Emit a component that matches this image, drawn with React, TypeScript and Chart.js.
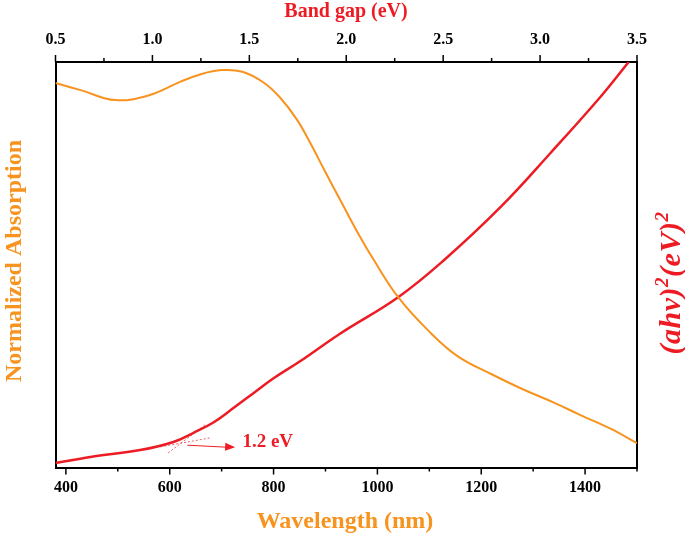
import React, { useEffect, useRef } from "react";
import { Chart, registerables } from "chart.js";

Chart.register(...registerables);

// Wavelength (nm) and normalized absorption (orange)
const absWavelength = [380, 430, 495, 560, 620, 660, 700, 740, 780, 812, 845, 870, 900, 930, 960, 992, 1040, 1100, 1155, 1220, 1280, 1340, 1390, 1450, 1500];
const absValues = [0.948, 0.930, 0.906, 0.918, 0.951, 0.970, 0.980, 0.976, 0.950, 0.913, 0.858, 0.802, 0.728, 0.656, 0.584, 0.514, 0.420, 0.335, 0.274, 0.230, 0.193, 0.160, 0.130, 0.095, 0.060];

// Tauc curve (red), plotted on the same wavelength axis
const taucWavelength = [380, 447, 543, 607, 645, 684, 722, 765, 800, 851, 928, 1040, 1127, 1237, 1333, 1429, 1484];
const taucValues = [0.011, 0.026, 0.043, 0.063, 0.085, 0.111, 0.146, 0.187, 0.220, 0.262, 0.330, 0.420, 0.510, 0.642, 0.775, 0.913, 1.0];

// Tangent (dashed) lines for the band-gap extrapolation
const tangentA_x = [582, 678];
const tangentA_y = [0.051, 0.073];
const tangentB_x = [597, 668];
const tangentB_y = [0.036, 0.105];

// Annotation
const arrowFrom = [634, 0.055];
const arrowTo = [726, 0.05];
const labelAt = [740, 0.063];
const annotationText = "1.2 eV";

// Axis ranges and tick values
const wlRange = [380, 1500];
const egRange = [0.5, 3.5];
const wlTicks = [400, 500, 600, 700, 800, 900, 1000, 1100, 1200, 1300, 1400, 1500];
const egTicks = [0.5, 0.75, 1.0, 1.25, 1.5, 1.75, 2.0, 2.25, 2.5, 2.75, 3.0, 3.25, 3.5];

const ORANGE = "#f7931e";
const RED = "#ed1c24";
const SERIF = "'Liberation Serif', 'Times New Roman', serif";

const zip = (xs: number[], ys: number[]) => xs.map((x, i) => ({ x, y: ys[i] }));

export default function App() {
  const ref = useRef<HTMLCanvasElement>(null);
  useEffect(() => {
    const canvas = ref.current!;
    const W = 685, H = 539;
    const plotL = 55.5, plotR = 637, plotT = 62, plotB = 467.5;

    const decor = {
      id: "decor",
      afterDraw(chart: any) {
        const ctx = chart.ctx;
        const ca = chart.chartArea;
        const xs = chart.scales.x;
        const xt = chart.scales.x2;
        const y2 = chart.scales.y2;
        ctx.save();
        // ticks
        ctx.strokeStyle = "#000";
        ctx.lineWidth = 1.5;
        wlTicks.forEach((v) => {
          const p = xs.getPixelForValue(v);
          const len = v % 200 === 0 ? 7 : 4;
          ctx.beginPath();
          ctx.moveTo(p, ca.bottom);
          ctx.lineTo(p, ca.bottom + len);
          ctx.stroke();
        });
        egTicks.forEach((v) => {
          const r = Math.round(v * 4);
          const p = xt.getPixelForValue(v);
          const len = r % 2 === 0 ? 7 : 4;
          ctx.beginPath();
          ctx.moveTo(p, ca.top);
          ctx.lineTo(p, ca.top - len);
          ctx.stroke();
        });
        // arrow
        const ax0 = xs.getPixelForValue(arrowFrom[0]);
        const ay0 = y2.getPixelForValue(arrowFrom[1]);
        const ax1 = xs.getPixelForValue(arrowTo[0]);
        const ay1 = y2.getPixelForValue(arrowTo[1]);
        ctx.strokeStyle = RED;
        ctx.fillStyle = RED;
        ctx.lineWidth = 1;
        ctx.beginPath();
        ctx.moveTo(ax0, ay0);
        ctx.lineTo(ax1 - 8, ay1);
        ctx.stroke();
        const ang = Math.atan2(ay1 - ay0, ax1 - ax0);
        ctx.beginPath();
        ctx.moveTo(ax1, ay1);
        ctx.lineTo(ax1 - 10 * Math.cos(ang) + 4 * Math.sin(ang), ay1 - 10 * Math.sin(ang) - 4 * Math.cos(ang));
        ctx.lineTo(ax1 - 10 * Math.cos(ang) - 4 * Math.sin(ang), ay1 - 10 * Math.sin(ang) + 4 * Math.cos(ang));
        ctx.closePath();
        ctx.fill();
        ctx.font = `bold 19px ${SERIF}`;
        ctx.textAlign = "left";
        ctx.textBaseline = "middle";
        ctx.fillText(annotationText, xs.getPixelForValue(labelAt[0]), y2.getPixelForValue(labelAt[1]));
        // titles
        ctx.textAlign = "center";
        ctx.fillStyle = RED;
        ctx.font = `bold 20px ${SERIF}`;
        ctx.fillText("Band gap (eV)", 346, 12);
        ctx.fillStyle = ORANGE;
        ctx.font = `bold 24px ${SERIF}`;
        ctx.fillText("Wavelength (nm)", 345, 522);
        ctx.save();
        ctx.translate(15, 261);
        ctx.rotate(-Math.PI / 2);
        ctx.fillText("Normalized Absorption", 0, 0);
        ctx.restore();
        // right title built from parts (with superscripts)
        ctx.save();
        ctx.translate(670, 283);
        ctx.rotate(-Math.PI / 2);
        ctx.fillStyle = RED;
        ctx.textAlign = "left";
        ctx.textBaseline = "alphabetic";
        const big = `italic bold 30px ${SERIF}`;
        const small = `italic bold 19px ${SERIF}`;
        const parts: [string, boolean][] = [["(ahv)", false], ["2", true], ["(eV)", false], ["2", true]];
        const spacing = 0.5;
        let total = 0;
        parts.forEach(([t, sup]) => {
          ctx.font = sup ? small : big;
          total += ctx.measureText(t).width + spacing * t.length;
        });
        let cx = -total / 2;
        const base = 10;
        parts.forEach(([t, sup]) => {
          ctx.font = sup ? small : big;
          for (const ch of t) {
            ctx.fillText(ch, cx, sup ? base - 12 : base);
            cx += ctx.measureText(ch).width + spacing;
          }
        });
        ctx.restore();
        ctx.restore();
      },
    };

    const tickFont = { family: SERIF, size: 16, weight: "bold" as const };

    const chart = new Chart(canvas, {
      type: "line",
      data: {
        datasets: [
          {
            data: zip(absWavelength, absValues),
            borderColor: ORANGE,
            borderWidth: 2,
            pointRadius: 0,
            tension: 0.4,
            xAxisID: "x",
            yAxisID: "y",
          },
          {
            data: zip(taucWavelength, taucValues),
            borderColor: RED,
            borderWidth: 2.5,
            pointRadius: 0,
            tension: 0.4,
            xAxisID: "x",
            yAxisID: "y2",
          },
          {
            data: zip(tangentA_x, tangentA_y),
            borderColor: "rgba(237,28,36,0.7)",
            borderWidth: 1,
            borderDash: [2, 2],
            pointRadius: 0,
            xAxisID: "x",
            yAxisID: "y2",
          },
          {
            data: zip(tangentB_x, tangentB_y),
            borderColor: "rgba(237,28,36,0.7)",
            borderWidth: 1,
            borderDash: [2, 2],
            pointRadius: 0,
            xAxisID: "x",
            yAxisID: "y2",
          },
        ],
      },
      options: {
        responsive: false,
        animation: false,
        layout: { padding: 0 },
        plugins: { legend: { display: false }, tooltip: { enabled: false } },
        scales: {
          x: {
            type: "linear",
            position: "bottom",
            min: wlRange[0],
            max: wlRange[1],
            grid: { display: false, drawTicks: false },
            border: { display: true, color: "#000", width: 2 },
            afterBuildTicks: (s: any) => { s.ticks = wlTicks.map((v) => ({ value: v })); },
            ticks: {
              autoSkip: false,
              maxRotation: 0,
              padding: 11,
              color: "#000",
              font: tickFont,
              callback: (v: any) => (v % 200 === 0 ? String(v) : ""),
            },
            afterFit: (s: any) => { s.height = H - plotB; },
          },
          x2: {
            type: "linear",
            position: "top",
            min: egRange[0],
            max: egRange[1],
            grid: { display: false, drawTicks: false },
            border: { display: true, color: "#000", width: 2 },
            afterBuildTicks: (s: any) => { s.ticks = egTicks.map((v) => ({ value: v })); },
            ticks: {
              autoSkip: false,
              maxRotation: 0,
              padding: 13,
              color: "#000",
              font: tickFont,
              callback: (v: any) => {
                const r = Math.round(v * 2);
                return Math.abs(v * 2 - r) < 1e-6 ? (r / 2).toFixed(1) : "";
              },
            },
            afterFit: (s: any) => { s.height = plotT; },
          },
          y: {
            type: "linear",
            position: "left",
            min: 0,
            max: 1,
            grid: { display: false, drawTicks: false },
            border: { display: true, color: "#000", width: 2 },
            ticks: { display: false },
            afterFit: (s: any) => { s.width = plotL; },
          },
          y2: {
            type: "linear",
            position: "right",
            min: 0,
            max: 1,
            grid: { display: false, drawTicks: false },
            border: { display: true, color: "#000", width: 2 },
            ticks: { display: false },
            afterFit: (s: any) => { s.width = W - plotR; },
          },
        },
      },
      plugins: [decor],
    });
    return () => chart.destroy();
  }, []);

  return (
    <div style={{ position: "fixed", left: 0, top: 0, width: 685, height: 539, background: "#fff" }}>
      <canvas ref={ref} width={685} height={539} style={{ display: "block" }} />
    </div>
  );
}
